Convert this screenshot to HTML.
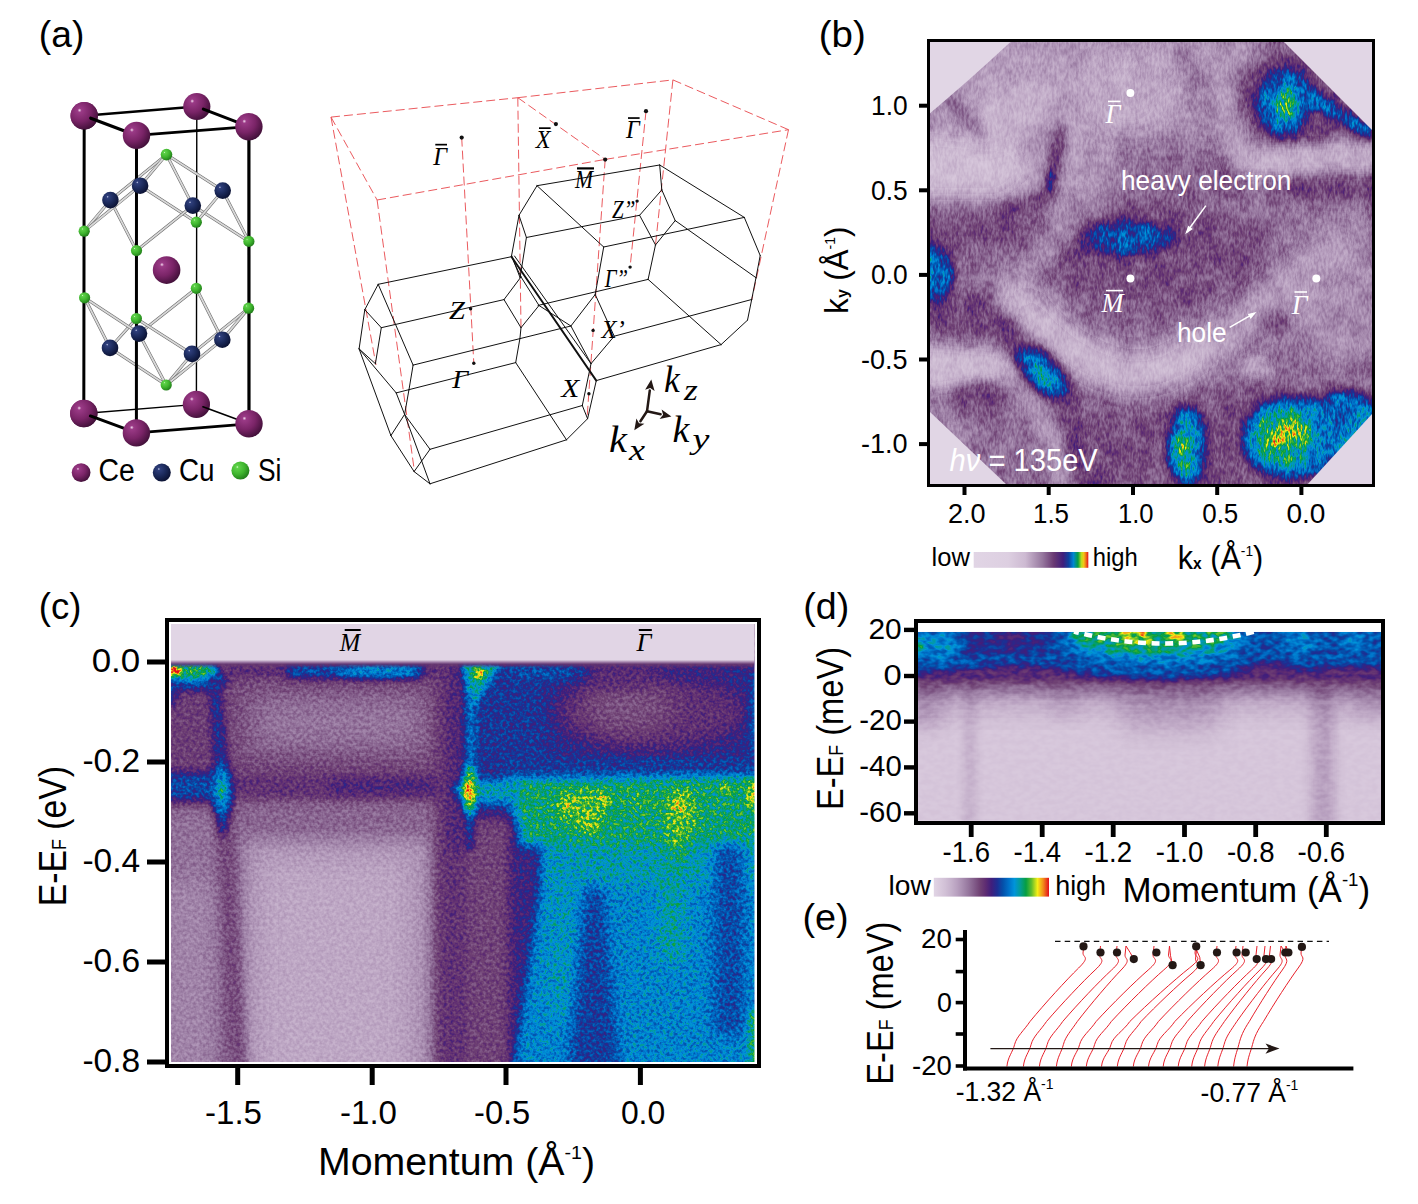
<!DOCTYPE html>
<html><head><meta charset="utf-8"><title>figure</title>
<style>
html,body{margin:0;padding:0;background:#fff;}
body{width:1418px;height:1204px;overflow:hidden;font-family:"Liberation Sans",sans-serif;}
svg{display:block;position:absolute;left:0;top:0;}
</style></head><body>
<svg width="1418" height="1204" viewBox="0 0 1418 1204">
<defs>
<linearGradient id="cbarD" x1="0" x2="1" y1="0" y2="0"><stop offset="0.000" stop-color="rgb(225,213,229)"/><stop offset="0.050" stop-color="rgb(218,203,222)"/><stop offset="0.100" stop-color="rgb(209,192,214)"/><stop offset="0.150" stop-color="rgb(198,178,204)"/><stop offset="0.200" stop-color="rgb(185,161,192)"/><stop offset="0.250" stop-color="rgb(168,141,176)"/><stop offset="0.300" stop-color="rgb(150,119,158)"/><stop offset="0.350" stop-color="rgb(131,93,138)"/><stop offset="0.400" stop-color="rgb(112,66,116)"/><stop offset="0.450" stop-color="rgb(94,44,114)"/><stop offset="0.500" stop-color="rgb(64,30,124)"/><stop offset="0.550" stop-color="rgb(30,46,146)"/><stop offset="0.600" stop-color="rgb(4,80,170)"/><stop offset="0.650" stop-color="rgb(0,112,200)"/><stop offset="0.700" stop-color="rgb(0,148,218)"/><stop offset="0.750" stop-color="rgb(4,156,150)"/><stop offset="0.800" stop-color="rgb(6,158,66)"/><stop offset="0.850" stop-color="rgb(100,190,44)"/><stop offset="0.900" stop-color="rgb(245,238,22)"/><stop offset="0.950" stop-color="rgb(242,138,26)"/><stop offset="1.000" stop-color="rgb(226,14,28)"/></linearGradient>
<linearGradient id="cbarB" x1="0" x2="1" y1="0" y2="0"><stop offset="0.000" stop-color="rgb(225,213,229)"/><stop offset="0.300" stop-color="rgb(221,207,225)"/><stop offset="0.450" stop-color="rgb(205,186,210)"/><stop offset="0.600" stop-color="rgb(150,119,158)"/><stop offset="0.700" stop-color="rgb(105,57,115)"/><stop offset="0.780" stop-color="rgb(64,30,124)"/><stop offset="0.830" stop-color="rgb(14,66,160)"/><stop offset="0.870" stop-color="rgb(0,134,211)"/><stop offset="0.910" stop-color="rgb(6,158,66)"/><stop offset="0.940" stop-color="rgb(187,219,31)"/><stop offset="0.960" stop-color="rgb(244,198,24)"/><stop offset="0.980" stop-color="rgb(239,113,26)"/><stop offset="1.000" stop-color="rgb(226,14,28)"/></linearGradient>
<filter id="blc1" filterUnits="userSpaceOnUse" x="120" y="573" width="686" height="540"><feGaussianBlur stdDeviation="1"/></filter>
<filter id="blc2" filterUnits="userSpaceOnUse" x="120" y="573" width="686" height="540"><feGaussianBlur stdDeviation="2"/></filter>
<filter id="blc3" filterUnits="userSpaceOnUse" x="120" y="573" width="686" height="540"><feGaussianBlur stdDeviation="3"/></filter>
<filter id="blc4" filterUnits="userSpaceOnUse" x="120" y="573" width="686" height="540"><feGaussianBlur stdDeviation="4"/></filter>
<filter id="blc5" filterUnits="userSpaceOnUse" x="120" y="573" width="686" height="540"><feGaussianBlur stdDeviation="5"/></filter>
<filter id="blc6" filterUnits="userSpaceOnUse" x="120" y="573" width="686" height="540"><feGaussianBlur stdDeviation="6"/></filter>
<filter id="blc7" filterUnits="userSpaceOnUse" x="120" y="573" width="686" height="540"><feGaussianBlur stdDeviation="7"/></filter>
<filter id="blc8" filterUnits="userSpaceOnUse" x="120" y="573" width="686" height="540"><feGaussianBlur stdDeviation="8"/></filter>
<filter id="blc9" filterUnits="userSpaceOnUse" x="120" y="573" width="686" height="540"><feGaussianBlur stdDeviation="9"/></filter>
<filter id="blc10" filterUnits="userSpaceOnUse" x="120" y="573" width="686" height="540"><feGaussianBlur stdDeviation="10"/></filter>
<filter id="blc12" filterUnits="userSpaceOnUse" x="120" y="573" width="686" height="540"><feGaussianBlur stdDeviation="12"/></filter>
<filter id="blc14" filterUnits="userSpaceOnUse" x="120" y="573" width="686" height="540"><feGaussianBlur stdDeviation="14"/></filter>
<filter id="blc15" filterUnits="userSpaceOnUse" x="120" y="573" width="686" height="540"><feGaussianBlur stdDeviation="15"/></filter>
<filter id="blc18" filterUnits="userSpaceOnUse" x="120" y="573" width="686" height="540"><feGaussianBlur stdDeviation="18"/></filter>
<filter id="blc22" filterUnits="userSpaceOnUse" x="120" y="573" width="686" height="540"><feGaussianBlur stdDeviation="22"/></filter>
<filter id="blc25" filterUnits="userSpaceOnUse" x="120" y="573" width="686" height="540"><feGaussianBlur stdDeviation="25"/></filter>
<filter id="blb1" filterUnits="userSpaceOnUse" x="880" y="-8" width="542" height="542"><feGaussianBlur stdDeviation="1"/></filter>
<filter id="blb2" filterUnits="userSpaceOnUse" x="880" y="-8" width="542" height="542"><feGaussianBlur stdDeviation="2"/></filter>
<filter id="blb3" filterUnits="userSpaceOnUse" x="880" y="-8" width="542" height="542"><feGaussianBlur stdDeviation="3"/></filter>
<filter id="blb4" filterUnits="userSpaceOnUse" x="880" y="-8" width="542" height="542"><feGaussianBlur stdDeviation="4"/></filter>
<filter id="blb5" filterUnits="userSpaceOnUse" x="880" y="-8" width="542" height="542"><feGaussianBlur stdDeviation="5"/></filter>
<filter id="blb6" filterUnits="userSpaceOnUse" x="880" y="-8" width="542" height="542"><feGaussianBlur stdDeviation="6"/></filter>
<filter id="blb7" filterUnits="userSpaceOnUse" x="880" y="-8" width="542" height="542"><feGaussianBlur stdDeviation="7"/></filter>
<filter id="blb8" filterUnits="userSpaceOnUse" x="880" y="-8" width="542" height="542"><feGaussianBlur stdDeviation="8"/></filter>
<filter id="blb9" filterUnits="userSpaceOnUse" x="880" y="-8" width="542" height="542"><feGaussianBlur stdDeviation="9"/></filter>
<filter id="blb10" filterUnits="userSpaceOnUse" x="880" y="-8" width="542" height="542"><feGaussianBlur stdDeviation="10"/></filter>
<filter id="blb12" filterUnits="userSpaceOnUse" x="880" y="-8" width="542" height="542"><feGaussianBlur stdDeviation="12"/></filter>
<filter id="blb14" filterUnits="userSpaceOnUse" x="880" y="-8" width="542" height="542"><feGaussianBlur stdDeviation="14"/></filter>
<filter id="blb15" filterUnits="userSpaceOnUse" x="880" y="-8" width="542" height="542"><feGaussianBlur stdDeviation="15"/></filter>
<filter id="blb18" filterUnits="userSpaceOnUse" x="880" y="-8" width="542" height="542"><feGaussianBlur stdDeviation="18"/></filter>
<filter id="blb22" filterUnits="userSpaceOnUse" x="880" y="-8" width="542" height="542"><feGaussianBlur stdDeviation="22"/></filter>
<filter id="blb25" filterUnits="userSpaceOnUse" x="880" y="-8" width="542" height="542"><feGaussianBlur stdDeviation="25"/></filter>
<filter id="bld1" filterUnits="userSpaceOnUse" x="868" y="582" width="563" height="289"><feGaussianBlur stdDeviation="1"/></filter>
<filter id="bld2" filterUnits="userSpaceOnUse" x="868" y="582" width="563" height="289"><feGaussianBlur stdDeviation="2"/></filter>
<filter id="bld3" filterUnits="userSpaceOnUse" x="868" y="582" width="563" height="289"><feGaussianBlur stdDeviation="3"/></filter>
<filter id="bld4" filterUnits="userSpaceOnUse" x="868" y="582" width="563" height="289"><feGaussianBlur stdDeviation="4"/></filter>
<filter id="bld5" filterUnits="userSpaceOnUse" x="868" y="582" width="563" height="289"><feGaussianBlur stdDeviation="5"/></filter>
<filter id="bld6" filterUnits="userSpaceOnUse" x="868" y="582" width="563" height="289"><feGaussianBlur stdDeviation="6"/></filter>
<filter id="bld7" filterUnits="userSpaceOnUse" x="868" y="582" width="563" height="289"><feGaussianBlur stdDeviation="7"/></filter>
<filter id="bld8" filterUnits="userSpaceOnUse" x="868" y="582" width="563" height="289"><feGaussianBlur stdDeviation="8"/></filter>
<filter id="bld9" filterUnits="userSpaceOnUse" x="868" y="582" width="563" height="289"><feGaussianBlur stdDeviation="9"/></filter>
<filter id="bld10" filterUnits="userSpaceOnUse" x="868" y="582" width="563" height="289"><feGaussianBlur stdDeviation="10"/></filter>
<filter id="bld12" filterUnits="userSpaceOnUse" x="868" y="582" width="563" height="289"><feGaussianBlur stdDeviation="12"/></filter>
<filter id="bld14" filterUnits="userSpaceOnUse" x="868" y="582" width="563" height="289"><feGaussianBlur stdDeviation="14"/></filter>
<filter id="bld15" filterUnits="userSpaceOnUse" x="868" y="582" width="563" height="289"><feGaussianBlur stdDeviation="15"/></filter>
<filter id="bld18" filterUnits="userSpaceOnUse" x="868" y="582" width="563" height="289"><feGaussianBlur stdDeviation="18"/></filter>
<filter id="bld22" filterUnits="userSpaceOnUse" x="868" y="582" width="563" height="289"><feGaussianBlur stdDeviation="22"/></filter>
<filter id="bld25" filterUnits="userSpaceOnUse" x="868" y="582" width="563" height="289"><feGaussianBlur stdDeviation="25"/></filter>
</defs>
<defs>
<radialGradient id="gCe" cx="0.36" cy="0.33" r="0.72" fx="0.33" fy="0.30"><stop offset="0" stop-color="#f3d9ee"/><stop offset="0.10" stop-color="#9a3a86"/><stop offset="0.55" stop-color="#7a2467"/><stop offset="1" stop-color="#3f0f37"/></radialGradient>
<radialGradient id="gCu" cx="0.36" cy="0.33" r="0.72" fx="0.33" fy="0.30"><stop offset="0" stop-color="#c5cde8"/><stop offset="0.10" stop-color="#2f3f7c"/><stop offset="0.55" stop-color="#1a2858"/><stop offset="1" stop-color="#0a1030"/></radialGradient>
<radialGradient id="gSi" cx="0.36" cy="0.33" r="0.72" fx="0.33" fy="0.30"><stop offset="0" stop-color="#e4ffd8"/><stop offset="0.10" stop-color="#5fd24a"/><stop offset="0.55" stop-color="#3fb52e"/><stop offset="1" stop-color="#1f7a18"/></radialGradient>
</defs>
<line x1="196.8" y1="106.5" x2="196.4" y2="404.4" stroke="#000" stroke-width="1.4" stroke-linecap="round"/>
<line x1="83.8" y1="413.5" x2="196.4" y2="404.4" stroke="#000" stroke-width="1.3" stroke-linecap="round"/>
<line x1="84.2" y1="115.7" x2="196.8" y2="106.5" stroke="#000" stroke-width="2.4" stroke-linecap="round"/>
<circle cx="196.8" cy="106.5" r="13.6" fill="url(#gCe)"/>
<circle cx="196.4" cy="404.4" r="13.6" fill="url(#gCe)"/>
<line x1="203.32661533365453" y1="109.03047273972786" x2="248.9" y2="126.7" stroke="#000" stroke-width="3" stroke-linecap="round"/>
<line x1="202.96754871885256" y1="406.82225180885433" x2="249" y2="423.8" stroke="#000" stroke-width="1.7" stroke-linecap="round"/>
<circle cx="84.2" cy="115.7" r="13.7" fill="url(#gCe)"/>
<circle cx="83.8" cy="413.5" r="13.7" fill="url(#gCe)"/>
<line x1="136.5" y1="135.4" x2="248.9" y2="126.7" stroke="#000" stroke-width="2.8" stroke-linecap="round"/>
<line x1="136.4" y1="432.9" x2="249" y2="423.8" stroke="#000" stroke-width="2.8" stroke-linecap="round"/>
<line x1="110.4" y1="200.1" x2="84.2" y2="231.2" stroke="#6e6e6e" stroke-width="3.0" stroke-linecap="round"/>
<line x1="110.4" y1="200.1" x2="84.2" y2="231.2" stroke="#d9d9d9" stroke-width="1.8" stroke-linecap="round"/>
<line x1="110" y1="347.9" x2="84.6" y2="297.8" stroke="#6e6e6e" stroke-width="3.0" stroke-linecap="round"/>
<line x1="110" y1="347.9" x2="84.6" y2="297.8" stroke="#d9d9d9" stroke-width="1.8" stroke-linecap="round"/>
<line x1="110.4" y1="200.1" x2="136.5" y2="250.6" stroke="#6e6e6e" stroke-width="3.0" stroke-linecap="round"/>
<line x1="110.4" y1="200.1" x2="136.5" y2="250.6" stroke="#d9d9d9" stroke-width="1.8" stroke-linecap="round"/>
<line x1="110" y1="347.9" x2="136.4" y2="318.5" stroke="#6e6e6e" stroke-width="3.0" stroke-linecap="round"/>
<line x1="110" y1="347.9" x2="136.4" y2="318.5" stroke="#d9d9d9" stroke-width="1.8" stroke-linecap="round"/>
<line x1="140.1" y1="185.7" x2="84.2" y2="231.2" stroke="#6e6e6e" stroke-width="3.0" stroke-linecap="round"/>
<line x1="140.1" y1="185.7" x2="84.2" y2="231.2" stroke="#d9d9d9" stroke-width="1.8" stroke-linecap="round"/>
<line x1="139" y1="333.6" x2="84.6" y2="297.8" stroke="#6e6e6e" stroke-width="3.0" stroke-linecap="round"/>
<line x1="139" y1="333.6" x2="84.6" y2="297.8" stroke="#d9d9d9" stroke-width="1.8" stroke-linecap="round"/>
<line x1="140.1" y1="185.7" x2="196.3" y2="222.2" stroke="#6e6e6e" stroke-width="3.0" stroke-linecap="round"/>
<line x1="140.1" y1="185.7" x2="196.3" y2="222.2" stroke="#d9d9d9" stroke-width="1.8" stroke-linecap="round"/>
<line x1="139" y1="333.6" x2="196.4" y2="288.3" stroke="#6e6e6e" stroke-width="3.0" stroke-linecap="round"/>
<line x1="139" y1="333.6" x2="196.4" y2="288.3" stroke="#d9d9d9" stroke-width="1.8" stroke-linecap="round"/>
<line x1="192.8" y1="205.6" x2="136.5" y2="250.6" stroke="#6e6e6e" stroke-width="3.0" stroke-linecap="round"/>
<line x1="192.8" y1="205.6" x2="136.5" y2="250.6" stroke="#d9d9d9" stroke-width="1.8" stroke-linecap="round"/>
<line x1="192" y1="353.9" x2="136.4" y2="318.5" stroke="#6e6e6e" stroke-width="3.0" stroke-linecap="round"/>
<line x1="192" y1="353.9" x2="136.4" y2="318.5" stroke="#d9d9d9" stroke-width="1.8" stroke-linecap="round"/>
<line x1="192.8" y1="205.6" x2="248.9" y2="241.4" stroke="#6e6e6e" stroke-width="3.0" stroke-linecap="round"/>
<line x1="192.8" y1="205.6" x2="248.9" y2="241.4" stroke="#d9d9d9" stroke-width="1.8" stroke-linecap="round"/>
<line x1="192" y1="353.9" x2="248.6" y2="308.2" stroke="#6e6e6e" stroke-width="3.0" stroke-linecap="round"/>
<line x1="192" y1="353.9" x2="248.6" y2="308.2" stroke="#d9d9d9" stroke-width="1.8" stroke-linecap="round"/>
<line x1="222.7" y1="190.6" x2="196.3" y2="222.2" stroke="#6e6e6e" stroke-width="3.0" stroke-linecap="round"/>
<line x1="222.7" y1="190.6" x2="196.3" y2="222.2" stroke="#d9d9d9" stroke-width="1.8" stroke-linecap="round"/>
<line x1="222.3" y1="339.7" x2="196.4" y2="288.3" stroke="#6e6e6e" stroke-width="3.0" stroke-linecap="round"/>
<line x1="222.3" y1="339.7" x2="196.4" y2="288.3" stroke="#d9d9d9" stroke-width="1.8" stroke-linecap="round"/>
<line x1="222.7" y1="190.6" x2="248.9" y2="241.4" stroke="#6e6e6e" stroke-width="3.0" stroke-linecap="round"/>
<line x1="222.7" y1="190.6" x2="248.9" y2="241.4" stroke="#d9d9d9" stroke-width="1.8" stroke-linecap="round"/>
<line x1="222.3" y1="339.7" x2="248.6" y2="308.2" stroke="#6e6e6e" stroke-width="3.0" stroke-linecap="round"/>
<line x1="222.3" y1="339.7" x2="248.6" y2="308.2" stroke="#d9d9d9" stroke-width="1.8" stroke-linecap="round"/>
<line x1="166.5" y1="154.6" x2="110.4" y2="200.1" stroke="#6e6e6e" stroke-width="3.0" stroke-linecap="round"/>
<line x1="166.5" y1="154.6" x2="110.4" y2="200.1" stroke="#d9d9d9" stroke-width="1.8" stroke-linecap="round"/>
<line x1="166.5" y1="154.6" x2="140.1" y2="185.7" stroke="#6e6e6e" stroke-width="3.0" stroke-linecap="round"/>
<line x1="166.5" y1="154.6" x2="140.1" y2="185.7" stroke="#d9d9d9" stroke-width="1.8" stroke-linecap="round"/>
<line x1="166.5" y1="154.6" x2="192.8" y2="205.6" stroke="#6e6e6e" stroke-width="3.0" stroke-linecap="round"/>
<line x1="166.5" y1="154.6" x2="192.8" y2="205.6" stroke="#d9d9d9" stroke-width="1.8" stroke-linecap="round"/>
<line x1="166.5" y1="154.6" x2="222.7" y2="190.6" stroke="#6e6e6e" stroke-width="3.0" stroke-linecap="round"/>
<line x1="166.5" y1="154.6" x2="222.7" y2="190.6" stroke="#d9d9d9" stroke-width="1.8" stroke-linecap="round"/>
<line x1="166.2" y1="385" x2="110" y2="347.9" stroke="#6e6e6e" stroke-width="3.0" stroke-linecap="round"/>
<line x1="166.2" y1="385" x2="110" y2="347.9" stroke="#d9d9d9" stroke-width="1.8" stroke-linecap="round"/>
<line x1="166.2" y1="385" x2="139" y2="333.6" stroke="#6e6e6e" stroke-width="3.0" stroke-linecap="round"/>
<line x1="166.2" y1="385" x2="139" y2="333.6" stroke="#d9d9d9" stroke-width="1.8" stroke-linecap="round"/>
<line x1="166.2" y1="385" x2="192" y2="353.9" stroke="#6e6e6e" stroke-width="3.0" stroke-linecap="round"/>
<line x1="166.2" y1="385" x2="192" y2="353.9" stroke="#d9d9d9" stroke-width="1.8" stroke-linecap="round"/>
<line x1="166.2" y1="385" x2="222.3" y2="339.7" stroke="#6e6e6e" stroke-width="3.0" stroke-linecap="round"/>
<line x1="166.2" y1="385" x2="222.3" y2="339.7" stroke="#d9d9d9" stroke-width="1.8" stroke-linecap="round"/>
<line x1="84.2" y1="115.7" x2="83.8" y2="413.5" stroke="#000" stroke-width="3" stroke-linecap="round"/>
<line x1="136.5" y1="135.4" x2="136.4" y2="432.9" stroke="#000" stroke-width="3" stroke-linecap="round"/>
<line x1="248.9" y1="126.7" x2="249" y2="423.8" stroke="#000" stroke-width="3.2" stroke-linecap="round"/>
<circle cx="84.2" cy="115.7" r="13.7" fill="url(#gCe)"/>
<circle cx="83.8" cy="413.5" r="13.7" fill="url(#gCe)"/>
<line x1="90.75069405250986" y1="118.16746984387083" x2="136.5" y2="135.4" stroke="#000" stroke-width="3.2" stroke-linecap="round"/>
<line x1="90.36754871885255" y1="415.92225180885436" x2="136.4" y2="432.9" stroke="#000" stroke-width="3" stroke-linecap="round"/>
<circle cx="84.2" cy="231.2" r="5.6" fill="url(#gSi)"/>
<circle cx="136.5" cy="250.6" r="5.6" fill="url(#gSi)"/>
<circle cx="196.3" cy="222.2" r="5.6" fill="url(#gSi)"/>
<circle cx="248.9" cy="241.4" r="5.6" fill="url(#gSi)"/>
<circle cx="84.6" cy="297.8" r="5.6" fill="url(#gSi)"/>
<circle cx="136.4" cy="318.5" r="5.6" fill="url(#gSi)"/>
<circle cx="196.4" cy="288.3" r="5.6" fill="url(#gSi)"/>
<circle cx="248.6" cy="308.2" r="5.6" fill="url(#gSi)"/>
<circle cx="166.5" cy="154.6" r="5.8" fill="url(#gSi)"/>
<circle cx="166.2" cy="385" r="5.6" fill="url(#gSi)"/>
<circle cx="110.4" cy="200.1" r="8.3" fill="url(#gCu)"/>
<circle cx="140.1" cy="185.7" r="8.3" fill="url(#gCu)"/>
<circle cx="192.8" cy="205.6" r="8.3" fill="url(#gCu)"/>
<circle cx="222.7" cy="190.6" r="8.3" fill="url(#gCu)"/>
<circle cx="110" cy="347.9" r="8.3" fill="url(#gCu)"/>
<circle cx="139" cy="333.6" r="8.3" fill="url(#gCu)"/>
<circle cx="192" cy="353.9" r="8.3" fill="url(#gCu)"/>
<circle cx="222.3" cy="339.7" r="8.3" fill="url(#gCu)"/>
<circle cx="166.6" cy="270.1" r="13.8" fill="url(#gCe)"/>
<circle cx="136.5" cy="135.4" r="13.7" fill="url(#gCe)"/>
<circle cx="248.9" cy="126.7" r="13.7" fill="url(#gCe)"/>
<circle cx="136.4" cy="432.9" r="13.7" fill="url(#gCe)"/>
<circle cx="249" cy="423.8" r="13.7" fill="url(#gCe)"/>
<circle cx="81.1" cy="472.6" r="9.4" fill="url(#gCe)"/>
<circle cx="161.8" cy="472.6" r="9" fill="url(#gCu)"/>
<circle cx="240.4" cy="470.6" r="9" fill="url(#gSi)"/>
<text x="98.4" y="481.4" font-family="Liberation Sans, sans-serif" font-size="31" fill="#000" textLength="36.3" lengthAdjust="spacingAndGlyphs">Ce</text>
<text x="179" y="481.4" font-family="Liberation Sans, sans-serif" font-size="31" fill="#000" textLength="35.5" lengthAdjust="spacingAndGlyphs">Cu</text>
<text x="258" y="481.4" font-family="Liberation Sans, sans-serif" font-size="31" fill="#000" textLength="23.4" lengthAdjust="spacingAndGlyphs">Si</text>
<line x1="331" y1="117.1" x2="517.8" y2="97.7" stroke="#e8474c" stroke-width="0.9" stroke-dasharray="9 4"/>
<line x1="517.8" y1="97.7" x2="672.9" y2="79.9" stroke="#e8474c" stroke-width="0.9" stroke-dasharray="9 4"/>
<line x1="377.1" y1="200" x2="605.2" y2="159.4" stroke="#e8474c" stroke-width="0.9" stroke-dasharray="9 4"/>
<line x1="605.2" y1="159.4" x2="788.5" y2="129.7" stroke="#e8474c" stroke-width="0.9" stroke-dasharray="9 4"/>
<line x1="331" y1="117.1" x2="377.1" y2="200" stroke="#e8474c" stroke-width="0.9" stroke-dasharray="9 4"/>
<line x1="517.8" y1="97.7" x2="605.2" y2="159.4" stroke="#e8474c" stroke-width="0.9" stroke-dasharray="9 4"/>
<line x1="672.9" y1="79.9" x2="788.5" y2="129.7" stroke="#e8474c" stroke-width="0.9" stroke-dasharray="9 4"/>
<line x1="331" y1="117.1" x2="376" y2="365" stroke="#e8474c" stroke-width="0.9" stroke-dasharray="9 4"/>
<line x1="377.1" y1="200" x2="414.5" y2="472" stroke="#e8474c" stroke-width="0.9" stroke-dasharray="9 4"/>
<line x1="517.8" y1="97.7" x2="521" y2="328" stroke="#e8474c" stroke-width="0.9" stroke-dasharray="9 4"/>
<line x1="605.2" y1="159.4" x2="587" y2="419" stroke="#e8474c" stroke-width="0.9" stroke-dasharray="9 4"/>
<line x1="672.9" y1="79.9" x2="655.5" y2="245" stroke="#e8474c" stroke-width="0.9" stroke-dasharray="9 4"/>
<line x1="788.5" y1="129.7" x2="751.7" y2="300" stroke="#e8474c" stroke-width="0.9" stroke-dasharray="9 4"/>
<line x1="461.7" y1="137.6" x2="473.8" y2="363.2" stroke="#e8474c" stroke-width="0.9" stroke-dasharray="9 4"/>
<line x1="646" y1="111.2" x2="630.1" y2="267.1" stroke="#e8474c" stroke-width="0.9" stroke-dasharray="9 4"/>
<line x1="378.2" y1="284.3" x2="511.5" y2="256.7" stroke="#111" stroke-width="1.0" stroke-linecap="round"/>
<line x1="378.2" y1="284.3" x2="364.8" y2="309.7" stroke="#111" stroke-width="1.0" stroke-linecap="round"/>
<line x1="364.8" y1="309.7" x2="381.3" y2="327.7" stroke="#111" stroke-width="1.0" stroke-linecap="round"/>
<line x1="381.3" y1="327.7" x2="504" y2="299.6" stroke="#111" stroke-width="1.0" stroke-linecap="round"/>
<line x1="378.2" y1="284.3" x2="413.1" y2="365.1" stroke="#111" stroke-width="1.0" stroke-linecap="round"/>
<line x1="364.8" y1="309.7" x2="359.1" y2="348.9" stroke="#111" stroke-width="1.0" stroke-linecap="round"/>
<line x1="381.3" y1="327.7" x2="375.4" y2="363.7" stroke="#111" stroke-width="1.0" stroke-linecap="round"/>
<line x1="359.1" y1="348.9" x2="375.4" y2="363.7" stroke="#111" stroke-width="1.0" stroke-linecap="round"/>
<line x1="413.1" y1="365.1" x2="570.9" y2="326" stroke="#111" stroke-width="1.0" stroke-linecap="round"/>
<line x1="413.1" y1="365.1" x2="408.9" y2="390.1" stroke="#111" stroke-width="1.0" stroke-linecap="round"/>
<line x1="396.2" y1="392.9" x2="515.7" y2="362.6" stroke="#111" stroke-width="1.0" stroke-linecap="round"/>
<line x1="515.7" y1="362.6" x2="519.9" y2="338.7" stroke="#111" stroke-width="1.0" stroke-linecap="round"/>
<line x1="519.9" y1="338.7" x2="521" y2="327.7" stroke="#111" stroke-width="1.0" stroke-linecap="round"/>
<line x1="504" y1="299.6" x2="521" y2="327.7" stroke="#111" stroke-width="1.0" stroke-linecap="round"/>
<line x1="504" y1="299.6" x2="521" y2="276.9" stroke="#111" stroke-width="1.0" stroke-linecap="round"/>
<line x1="521" y1="276.9" x2="511.5" y2="256.7" stroke="#111" stroke-width="1.0" stroke-linecap="round"/>
<line x1="515.7" y1="362.6" x2="566.5" y2="439.8" stroke="#111" stroke-width="1.0" stroke-linecap="round"/>
<line x1="566.5" y1="439.8" x2="430" y2="483.8" stroke="#111" stroke-width="1.0" stroke-linecap="round"/>
<line x1="430" y1="449.3" x2="582.3" y2="405.5" stroke="#111" stroke-width="1.0" stroke-linecap="round"/>
<line x1="430" y1="449.3" x2="404.6" y2="414.4" stroke="#111" stroke-width="1.0" stroke-linecap="round"/>
<line x1="430" y1="449.3" x2="414.1" y2="471.6" stroke="#111" stroke-width="1.0" stroke-linecap="round"/>
<line x1="414.1" y1="471.6" x2="430" y2="483.8" stroke="#111" stroke-width="1.0" stroke-linecap="round"/>
<line x1="404.6" y1="414.4" x2="430" y2="483.8" stroke="#111" stroke-width="1.0" stroke-linecap="round"/>
<line x1="359.1" y1="348.9" x2="390.9" y2="435.6" stroke="#111" stroke-width="1.0" stroke-linecap="round"/>
<line x1="390.9" y1="435.6" x2="414.1" y2="471.6" stroke="#111" stroke-width="1.0" stroke-linecap="round"/>
<line x1="390.9" y1="435.6" x2="404.6" y2="414.4" stroke="#111" stroke-width="1.0" stroke-linecap="round"/>
<line x1="359.1" y1="348.9" x2="396.2" y2="392.9" stroke="#111" stroke-width="1.0" stroke-linecap="round"/>
<line x1="396.2" y1="392.9" x2="404.6" y2="414.4" stroke="#111" stroke-width="1.0" stroke-linecap="round"/>
<line x1="408.9" y1="390.1" x2="404.6" y2="414.4" stroke="#111" stroke-width="1.0" stroke-linecap="round"/>
<line x1="566.5" y1="439.8" x2="587.6" y2="418.7" stroke="#111" stroke-width="1.0" stroke-linecap="round"/>
<line x1="582.3" y1="405.5" x2="587.6" y2="418.7" stroke="#111" stroke-width="1.0" stroke-linecap="round"/>
<line x1="521" y1="276.9" x2="539" y2="305.5" stroke="#111" stroke-width="1.0" stroke-linecap="round"/>
<line x1="521" y1="327.7" x2="539" y2="305.5" stroke="#111" stroke-width="1.0" stroke-linecap="round"/>
<line x1="539" y1="305.5" x2="570.9" y2="326" stroke="#111" stroke-width="1.0" stroke-linecap="round"/>
<line x1="582.3" y1="405.5" x2="591" y2="363.7" stroke="#111" stroke-width="1.0" stroke-linecap="round"/>
<line x1="587.6" y1="418.7" x2="596.3" y2="380.6" stroke="#111" stroke-width="1.0" stroke-linecap="round"/>
<line x1="511.5" y1="256.7" x2="596.3" y2="380.6" stroke="#111" stroke-width="1.9" stroke-linecap="round"/>
<line x1="514.5" y1="256" x2="591" y2="363.7" stroke="#111" stroke-width="1.0" stroke-linecap="round"/>
<line x1="537" y1="185.7" x2="659.7" y2="165" stroke="#111" stroke-width="1.0" stroke-linecap="round"/>
<line x1="537" y1="185.7" x2="519" y2="215.3" stroke="#111" stroke-width="1.0" stroke-linecap="round"/>
<line x1="519" y1="215.3" x2="526.4" y2="237.5" stroke="#111" stroke-width="1.0" stroke-linecap="round"/>
<line x1="526.4" y1="237.5" x2="639.6" y2="215.3" stroke="#111" stroke-width="1.0" stroke-linecap="round"/>
<line x1="537" y1="185.7" x2="603.7" y2="247" stroke="#111" stroke-width="1.0" stroke-linecap="round"/>
<line x1="603.7" y1="247" x2="744.3" y2="217.4" stroke="#111" stroke-width="1.0" stroke-linecap="round"/>
<line x1="659.7" y1="165" x2="744.3" y2="217.4" stroke="#111" stroke-width="1.0" stroke-linecap="round"/>
<line x1="659.7" y1="165" x2="661.8" y2="189.9" stroke="#111" stroke-width="1.0" stroke-linecap="round"/>
<line x1="661.8" y1="189.9" x2="639.6" y2="215.3" stroke="#111" stroke-width="1.0" stroke-linecap="round"/>
<line x1="661.8" y1="189.9" x2="675.2" y2="220.6" stroke="#111" stroke-width="1.0" stroke-linecap="round"/>
<line x1="639.6" y1="215.3" x2="655.5" y2="244.9" stroke="#111" stroke-width="1.0" stroke-linecap="round"/>
<line x1="675.2" y1="220.6" x2="655.5" y2="244.9" stroke="#111" stroke-width="1.0" stroke-linecap="round"/>
<line x1="675.2" y1="220.6" x2="756" y2="277.7" stroke="#111" stroke-width="1.0" stroke-linecap="round"/>
<line x1="655.5" y1="244.9" x2="648.1" y2="279.4" stroke="#111" stroke-width="1.0" stroke-linecap="round"/>
<line x1="603.7" y1="247" x2="595.2" y2="294.5" stroke="#111" stroke-width="1.0" stroke-linecap="round"/>
<line x1="538.1" y1="305.4" x2="648.1" y2="279.4" stroke="#111" stroke-width="1.0" stroke-linecap="round"/>
<line x1="744.3" y1="217.4" x2="760.2" y2="255.5" stroke="#111" stroke-width="1.0" stroke-linecap="round"/>
<line x1="760.2" y1="255.5" x2="756" y2="277.7" stroke="#111" stroke-width="1.0" stroke-linecap="round"/>
<line x1="756" y1="277.7" x2="751.7" y2="299.5" stroke="#111" stroke-width="1.0" stroke-linecap="round"/>
<line x1="751.7" y1="299.5" x2="747.5" y2="320.2" stroke="#111" stroke-width="1.0" stroke-linecap="round"/>
<line x1="519" y1="215.3" x2="511.6" y2="255.5" stroke="#111" stroke-width="1.0" stroke-linecap="round"/>
<line x1="526.4" y1="237.5" x2="520.1" y2="277.7" stroke="#111" stroke-width="1.0" stroke-linecap="round"/>
<line x1="511.6" y1="255.5" x2="520.1" y2="277.7" stroke="#111" stroke-width="1.0" stroke-linecap="round"/>
<line x1="648.1" y1="279.4" x2="721.1" y2="344.6" stroke="#111" stroke-width="1.0" stroke-linecap="round"/>
<line x1="747.5" y1="320.2" x2="721.1" y2="344.6" stroke="#111" stroke-width="1.0" stroke-linecap="round"/>
<line x1="721.1" y1="344.6" x2="596.3" y2="380.6" stroke="#111" stroke-width="1.0" stroke-linecap="round"/>
<line x1="751.7" y1="299.5" x2="614.2" y2="336.2" stroke="#111" stroke-width="1.0" stroke-linecap="round"/>
<line x1="595.2" y1="294.5" x2="614.2" y2="336.2" stroke="#111" stroke-width="1.0" stroke-linecap="round"/>
<line x1="595.2" y1="294.5" x2="570.9" y2="326" stroke="#111" stroke-width="1.0" stroke-linecap="round"/>
<line x1="614.2" y1="336.2" x2="591" y2="363.7" stroke="#111" stroke-width="1.0" stroke-linecap="round"/>
<line x1="570.9" y1="326" x2="591" y2="363.7" stroke="#111" stroke-width="1.0" stroke-linecap="round"/>
<circle cx="461.7" cy="137.6" r="2.1" fill="#111"/>
<circle cx="646" cy="111.2" r="2.1" fill="#111"/>
<circle cx="555.9" cy="124.1" r="2.1" fill="#111"/>
<circle cx="605.2" cy="159.6" r="2.1" fill="#111"/>
<circle cx="470.6" cy="308.7" r="1.7" fill="#111"/>
<circle cx="473.8" cy="363.2" r="1.7" fill="#111"/>
<circle cx="588.9" cy="393.7" r="1.7" fill="#111"/>
<circle cx="593.1" cy="330.4" r="1.7" fill="#111"/>
<circle cx="630.1" cy="267.1" r="1.7" fill="#111"/>
<circle cx="637.1" cy="201.1" r="1.7" fill="#111"/>
<text x="433.2" y="164.7" font-family="Liberation Serif, sans-serif" font-size="24.5" fill="#000" textLength="13.8" lengthAdjust="spacingAndGlyphs" font-style="italic">Γ</text>
<rect x="435.3" y="143.8" width="11.699999999999989" height="1.7" fill="#000"/>
<text x="535.8" y="147.8" font-family="Liberation Serif, sans-serif" font-size="24.5" fill="#000" textLength="14.8" lengthAdjust="spacingAndGlyphs" font-style="italic">X</text>
<rect x="539" y="127.3" width="11.600000000000023" height="1.7" fill="#000"/>
<text x="574.9" y="188" font-family="Liberation Serif, sans-serif" font-size="24.5" fill="#000" textLength="18" lengthAdjust="spacingAndGlyphs" font-style="italic">M</text>
<rect x="577" y="167.3" width="17" height="2.2" fill="#000"/>
<text x="625.9" y="137.7" font-family="Liberation Serif, sans-serif" font-size="24.5" fill="#000" textLength="13.7" lengthAdjust="spacingAndGlyphs" font-style="italic">Γ</text>
<rect x="628" y="117.2" width="11.600000000000023" height="1.7" fill="#000"/>
<text x="612.1" y="217.8" font-family="Liberation Serif, sans-serif" font-size="24.5" fill="#000" textLength="23.3" lengthAdjust="spacingAndGlyphs" font-style="italic">Z”</text>
<text x="604.7" y="286.6" font-family="Liberation Serif, sans-serif" font-size="24.5" fill="#000" textLength="23.3" lengthAdjust="spacingAndGlyphs" font-style="italic">Γ”</text>
<text x="601.5" y="338.3" font-family="Liberation Serif, sans-serif" font-size="24.5" fill="#000" textLength="23.3" lengthAdjust="spacingAndGlyphs" font-style="italic">X’</text>
<text x="561.3" y="396.5" font-family="Liberation Serif, sans-serif" font-size="24.5" fill="#000" textLength="18" lengthAdjust="spacingAndGlyphs" font-style="italic">X</text>
<text x="449" y="319.2" font-family="Liberation Serif, sans-serif" font-size="24.5" fill="#000" textLength="15.9" lengthAdjust="spacingAndGlyphs" font-style="italic">Z</text>
<text x="452.2" y="388" font-family="Liberation Serif, sans-serif" font-size="24.5" fill="#000" textLength="15.9" lengthAdjust="spacingAndGlyphs" font-style="italic">Γ</text>
<text x="664" y="392.2" font-family="Liberation Serif, sans-serif" font-size="37" fill="#000" textLength="15.8" lengthAdjust="spacingAndGlyphs" font-style="italic">k</text>
<text x="684" y="399.6" font-family="Liberation Serif, sans-serif" font-size="29" fill="#000" textLength="13.8" lengthAdjust="spacingAndGlyphs" font-style="italic">z</text>
<text x="672.4" y="442" font-family="Liberation Serif, sans-serif" font-size="37" fill="#000" textLength="16.9" lengthAdjust="spacingAndGlyphs" font-style="italic">k</text>
<text x="692.5" y="449" font-family="Liberation Serif, sans-serif" font-size="29" fill="#000" textLength="16.9" lengthAdjust="spacingAndGlyphs" font-style="italic">y</text>
<text x="609" y="451.5" font-family="Liberation Serif, sans-serif" font-size="37" fill="#000" textLength="18" lengthAdjust="spacingAndGlyphs" font-style="italic">k</text>
<text x="629" y="460" font-family="Liberation Serif, sans-serif" font-size="29" fill="#000" textLength="16" lengthAdjust="spacingAndGlyphs" font-style="italic">x</text>
<line x1="647" y1="411.3" x2="649.8" y2="390.4" stroke="#231815" stroke-width="2.5" stroke-linecap="round"/>
<path d="M651.3 379.5 L654.6 391.0 L650.2 387.9 L645.1 389.8 Z" fill="#231815"/>
<line x1="647" y1="411.3" x2="660.6" y2="414.2" stroke="#231815" stroke-width="2.5" stroke-linecap="round"/>
<path d="M671.4 416.5 L659.6 418.9 L663.1 414.7 L661.6 409.5 Z" fill="#231815"/>
<line x1="647" y1="411.3" x2="640.4" y2="421.2" stroke="#231815" stroke-width="2.5" stroke-linecap="round"/>
<path d="M634.3 430.3 L636.4 418.5 L639.0 423.2 L644.4 423.8 Z" fill="#231815"/>
<filter id="fb" filterUnits="userSpaceOnUse" x="930" y="42" width="442" height="442" color-interpolation-filters="sRGB">
<feTurbulence type="fractalNoise" baseFrequency="0.06 0.045" numOctaves="2" seed="3" result="m0"/><feColorMatrix in="m0" type="matrix" values="2.4 0 0 0 -0.7  2.4 0 0 0 -0.7  2.4 0 0 0 -0.7  0 0 0 0 1" result="m"/><feComposite in="SourceGraphic" in2="m" operator="arithmetic" k1="0.1" k2="0.9500" k3="0.0350" k4="-0.0175" result="src2"/><feTurbulence type="fractalNoise" baseFrequency="0.42 0.16" numOctaves="2" seed="5" result="n0"/>
<feColorMatrix in="n0" type="matrix" values="2.2 0 0 0 -0.6  2.2 0 0 0 -0.6  2.2 0 0 0 -0.6  0 0 0 0 1" result="n"/>
<feComposite in="src2" in2="n" operator="arithmetic" k1="0.19" k2="0.9050" k3="0.04" k4="-0.0200" result="s"/>
<feComponentTransfer in="s"><feFuncR type="table" tableValues="0.882 0.855 0.820 0.776 0.725 0.659 0.588 0.514 0.439 0.369 0.251 0.118 0.016 0.000 0.000 0.016 0.024 0.392 0.961 0.949 0.886"/><feFuncG type="table" tableValues="0.835 0.796 0.753 0.698 0.631 0.553 0.467 0.365 0.259 0.173 0.118 0.180 0.314 0.439 0.580 0.612 0.620 0.745 0.933 0.541 0.055"/><feFuncB type="table" tableValues="0.898 0.871 0.839 0.800 0.753 0.690 0.620 0.541 0.455 0.447 0.486 0.573 0.667 0.784 0.855 0.588 0.259 0.173 0.086 0.102 0.110"/><feFuncA type="linear" slope="0" intercept="1"/></feComponentTransfer>
</filter>
<defs><clipPath id="clipB"><rect x="930" y="42" width="442" height="442"/></clipPath></defs>
<g clip-path="url(#clipB)"><g filter="url(#fb)">
<rect x="900" y="12" width="502" height="502" fill="rgb(83,83,83)"/>
<rect x="915" y="25" width="200" height="190" fill="rgb(57,57,57)" filter="url(#blb15)"/>
<rect x="1100" y="25" width="160" height="110" fill="rgb(62,62,62)" filter="url(#blb15)"/>
<ellipse cx="1150" cy="255" rx="112" ry="56" fill="rgb(98,98,98)" filter="url(#blb12)"/>
<rect x="1085" y="392" width="300" height="110" fill="rgb(96,96,96)" filter="url(#blb10)"/>
<rect x="915" y="205" width="135" height="46" fill="rgb(94,94,94)" filter="url(#blb8)"/>
<ellipse cx="1338" cy="305" rx="48" ry="62" fill="rgb(65,65,65)" filter="url(#blb12)"/>
<ellipse cx="1335" cy="232" rx="44" ry="28" fill="rgb(74,74,74)" filter="url(#blb10)"/>
<rect x="1290" y="175" width="90" height="24" fill="rgb(105,105,105)" filter="url(#blb6)"/>
<ellipse cx="1295" cy="100" rx="58" ry="52" fill="rgb(107,107,107)" filter="url(#blb8)"/>
<ellipse cx="1232" cy="168" rx="22" ry="14" fill="rgb(102,102,102)" filter="url(#blb6)"/>
<rect x="925" y="390" width="120" height="100" fill="rgb(79,79,79)" filter="url(#blb10)"/>
<path d="M915 138 L1012 146 L1028 172 L1000 194 L915 194 Z" fill="rgb(26,26,26)" filter="url(#blb7)"/>
<ellipse cx="1010" cy="112" rx="56" ry="24" fill="rgb(38,38,38)" filter="url(#blb9)" transform="rotate(-38 1010 112)"/>
<ellipse cx="1128" cy="92" rx="50" ry="42" fill="rgb(41,41,41)" filter="url(#blb12)"/>
<path d="M1172 48 L1128 95" fill="none" stroke="rgb(48,48,48)" stroke-width="28" stroke-linecap="round" stroke-linejoin="round" filter="url(#blb10)"/>
<path d="M1236 146 L1380 142 L1380 171 L1240 175 Z" fill="rgb(41,41,41)" filter="url(#blb6)"/>
<path d="M1240 158 L1196 60" fill="none" stroke="rgb(54,54,54)" stroke-width="26" stroke-linecap="round" stroke-linejoin="round" filter="url(#blb9)"/>
<path d="M1080 198 L1030 270" fill="none" stroke="rgb(64,64,64)" stroke-width="24" stroke-linecap="round" stroke-linejoin="round" filter="url(#blb9)"/>
<path d="M1012 290 C1040 325 1070 356 1112 370 S1200 352 1250 318 S1300 272 1340 252" fill="none" stroke="rgb(54,54,54)" stroke-width="40" stroke-linecap="round" stroke-linejoin="round" filter="url(#blb10)"/>
<path d="M1026 308 C1046 334 1074 360 1114 371 S1172 366 1200 350" fill="none" stroke="rgb(26,26,26)" stroke-width="26" stroke-linecap="round" stroke-linejoin="round" filter="url(#blb12)"/>
<ellipse cx="1257" cy="367" rx="17" ry="11" fill="rgb(51,51,51)" filter="url(#blb6)"/>
<path d="M915 344 L1003 350 L1018 378 L915 392 Z" fill="rgb(36,36,36)" filter="url(#blb6)"/>
<path d="M1012 376 L1052 432 L1062 482" fill="none" stroke="rgb(59,59,59)" stroke-width="22" stroke-linecap="round" stroke-linejoin="round" filter="url(#blb7)"/>
<rect x="925" y="418" width="36" height="40" fill="rgb(61,61,61)" filter="url(#blb8)"/>
<path d="M1059 132 L1048 196 L1000 214" fill="none" stroke="rgb(112,112,112)" stroke-width="14" stroke-linecap="round" stroke-linejoin="round" filter="url(#blb6)"/>
<ellipse cx="1050" cy="181" rx="3.5" ry="12" fill="rgb(140,140,140)" filter="url(#blb2)" transform="rotate(8 1050 181)"/>
<path d="M946 96 L978 130" fill="none" stroke="rgb(89,89,89)" stroke-width="13" stroke-linecap="round" stroke-linejoin="round" filter="url(#blb5)"/>
<path d="M1180 50 L1215 120" fill="none" stroke="rgb(79,79,79)" stroke-width="16" stroke-linecap="round" stroke-linejoin="round" filter="url(#blb8)"/>
<path d="M928 305 L1005 330 L1043 369 L1066 398 L1090 482" fill="none" stroke="rgb(105,105,105)" stroke-width="26" stroke-linecap="round" stroke-linejoin="round" filter="url(#blb7)"/>
<rect x="925" y="296" width="70" height="30" fill="rgb(102,102,102)" filter="url(#blb8)"/>
<ellipse cx="983" cy="402" rx="30" ry="18" fill="rgb(101,101,101)" filter="url(#blb7)"/>
<ellipse cx="1276" cy="322" rx="16" ry="12" fill="rgb(99,99,99)" filter="url(#blb6)"/>
<ellipse cx="1285" cy="102" rx="28" ry="34" fill="rgb(158,158,158)" filter="url(#blb5)"/>
<path d="M1305 93 L1368 132" fill="none" stroke="rgb(158,158,158)" stroke-width="15" stroke-linecap="round" stroke-linejoin="round" filter="url(#blb4)"/>
<ellipse cx="1285" cy="106" rx="13" ry="20" fill="rgb(191,191,191)" filter="url(#blb4)"/>
<ellipse cx="1279" cy="107" rx="3" ry="5" fill="rgb(230,230,230)" filter="url(#blb2)"/>
<ellipse cx="1127" cy="238" rx="49" ry="18" fill="rgb(143,143,143)" filter="url(#blb5)"/>
<ellipse cx="1131" cy="238" rx="30" ry="10" fill="rgb(153,153,153)" filter="url(#blb4)"/>
<ellipse cx="935" cy="273" rx="20" ry="30" fill="rgb(153,153,153)" filter="url(#blb5)"/>
<ellipse cx="930" cy="268" rx="7" ry="20" fill="rgb(170,170,170)" filter="url(#blb3)"/>
<ellipse cx="1042" cy="372" rx="35" ry="17" fill="rgb(128,128,128)" filter="url(#blb5)" transform="rotate(44 1042 372)"/>
<ellipse cx="1042" cy="372" rx="32" ry="13" fill="rgb(164,164,164)" filter="url(#blb4)" transform="rotate(44 1042 372)"/>
<ellipse cx="1045" cy="374" rx="15" ry="6.5" fill="rgb(184,184,184)" filter="url(#blb3)" transform="rotate(42 1045 374)"/>
<ellipse cx="1187" cy="446" rx="20" ry="40" fill="rgb(166,166,166)" filter="url(#blb5)"/>
<ellipse cx="1186" cy="448" rx="10" ry="28" fill="rgb(199,199,199)" filter="url(#blb4)"/>
<ellipse cx="1184" cy="450" rx="2.5" ry="6" fill="rgb(230,230,230)" filter="url(#blb2)"/>
<ellipse cx="1292" cy="438" rx="50" ry="42" fill="rgb(168,168,168)" filter="url(#blb6)"/>
<ellipse cx="1345" cy="424" rx="38" ry="33" fill="rgb(167,167,167)" filter="url(#blb6)"/>
<ellipse cx="1283" cy="438" rx="31" ry="29" fill="rgb(201,201,201)" filter="url(#blb5)"/>
<ellipse cx="1279" cy="437" rx="13" ry="11" fill="rgb(222,222,222)" filter="url(#blb4)"/>
<ellipse cx="1275" cy="440" rx="2.5" ry="6" fill="rgb(240,240,240)" filter="url(#blb2)"/>
</g>
<path d="M929 41 L1011.5 41 Q972 78 929 114 Z" fill="rgb(225,214,229)"/>
<path d="M1283 41 L1373 41 L1373 131 Z" fill="rgb(225,214,229)"/>
<path d="M929 411 L1007 485 L929 485 Z" fill="rgb(225,214,229)"/>
<path d="M1373 413 L1373 485 L1307 485 Z" fill="rgb(225,214,229)"/>
</g>
<filter id="fc" filterUnits="userSpaceOnUse" x="171" y="624" width="583.5" height="438" color-interpolation-filters="sRGB">
<feTurbulence type="fractalNoise" baseFrequency="0.3 0.3" numOctaves="2" seed="7" result="n0"/>
<feColorMatrix in="n0" type="matrix" values="2.2 0 0 0 -0.6  2.2 0 0 0 -0.6  2.2 0 0 0 -0.6  0 0 0 0 1" result="n"/>
<feComposite in="SourceGraphic" in2="n" operator="arithmetic" k1="0.15" k2="0.9250" k3="0.042" k4="-0.0210" result="s"/>
<feComponentTransfer in="s"><feFuncR type="table" tableValues="0.882 0.855 0.820 0.776 0.725 0.659 0.588 0.514 0.439 0.369 0.251 0.118 0.016 0.000 0.000 0.016 0.024 0.392 0.961 0.949 0.886"/><feFuncG type="table" tableValues="0.835 0.796 0.753 0.698 0.631 0.553 0.467 0.365 0.259 0.173 0.118 0.180 0.314 0.439 0.580 0.612 0.620 0.745 0.933 0.541 0.055"/><feFuncB type="table" tableValues="0.898 0.871 0.839 0.800 0.753 0.690 0.620 0.541 0.455 0.447 0.486 0.573 0.667 0.784 0.855 0.588 0.259 0.173 0.086 0.102 0.110"/><feFuncA type="linear" slope="0" intercept="1"/></feComponentTransfer>
</filter>
<defs><clipPath id="clipC"><rect x="171" y="624" width="583.5" height="438"/></clipPath><linearGradient id="efC" x1="0" x2="0" y1="0" y2="1"><stop offset="0" stop-color="rgb(225,213,229)"/><stop offset="0.815" stop-color="rgb(225,213,229)"/><stop offset="0.868" stop-color="rgb(158,124,166)"/><stop offset="0.915" stop-color="rgb(102,56,112)" stop-opacity="0.85"/><stop offset="1" stop-color="rgb(102,56,112)" stop-opacity="0"/></linearGradient></defs>
<g clip-path="url(#clipC)"><g filter="url(#fc)">
<rect x="141" y="594" width="643.5" height="498" fill="rgb(102,102,102)"/>
<rect x="240" y="822" width="194" height="290" fill="rgb(60,60,60)" filter="url(#blc10)"/>
<rect x="236" y="800" width="204" height="40" fill="rgb(84,84,84)" filter="url(#blc8)"/>
<rect x="258" y="860" width="150" height="250" fill="rgb(46,46,46)" filter="url(#blc14)"/>
<rect x="238" y="690" width="204" height="68" fill="rgb(91,91,91)" filter="url(#blc9)"/>
<rect x="258" y="700" width="160" height="46" fill="rgb(78,78,78)" filter="url(#blc12)"/>
<rect x="225" y="776" width="240" height="22" fill="rgb(112,112,112)" filter="url(#blc5)"/>
<rect x="330" y="779" width="130" height="15" fill="rgb(122,122,122)" filter="url(#blc5)"/>
<rect x="160" y="686" width="48" height="80" fill="rgb(105,105,105)" filter="url(#blc6)"/>
<rect x="160" y="806" width="62" height="300" fill="rgb(79,79,79)" filter="url(#blc10)"/>
<rect x="160" y="880" width="54" height="220" fill="rgb(68,68,68)" filter="url(#blc10)"/>
<rect x="228" y="664" width="232" height="12" fill="rgb(117,117,117)" filter="url(#blc3)"/>
<rect x="287" y="664" width="136" height="14" fill="rgb(153,153,153)" filter="url(#blc4)"/>
<ellipse cx="378" cy="671" rx="42" ry="6" fill="rgb(173,173,173)" filter="url(#blc3)"/>
<rect x="160" y="664" width="56" height="15" fill="rgb(163,163,163)" filter="url(#blc4)"/>
<ellipse cx="196" cy="680" rx="32" ry="10" fill="rgb(158,158,158)" filter="url(#blc4)"/>
<rect x="163" y="676" width="13" height="28" fill="rgb(148,148,148)" filter="url(#blc4)"/>
<ellipse cx="192" cy="671" rx="26" ry="8" fill="rgb(204,204,204)" filter="url(#blc3)"/>
<ellipse cx="173" cy="671" rx="8" ry="4.5" fill="rgb(255,255,255)" filter="url(#blc2)"/>
<rect x="160" y="772" width="60" height="29" fill="rgb(149,149,149)" filter="url(#blc5)"/>
<path d="M208 676 L220 676 L229 770 L232 800 L227 840 L219 840 L213 800 L213 760 Z" fill="rgb(138,138,138)" filter="url(#blc3)"/>
<ellipse cx="222" cy="790" rx="9" ry="26" fill="rgb(173,173,173)" filter="url(#blc4)"/>
<ellipse cx="222" cy="790" rx="4.5" ry="8" fill="rgb(195,195,195)" filter="url(#blc2)"/>
<path d="M219 835 L232 835 L246 1070 L232 1070 Z" fill="rgb(99,99,99)" filter="url(#blc5)"/>
<rect x="436" y="664" width="30" height="410" fill="rgb(110,110,110)" filter="url(#blc6)"/>
<rect x="448" y="664" width="18" height="190" fill="rgb(120,120,120)" filter="url(#blc4)"/>
<rect x="450" y="850" width="16" height="230" fill="rgb(112,112,112)" filter="url(#blc5)"/>
<rect x="470" y="664" width="300" height="114" fill="rgb(136,136,136)" filter="url(#blc5)"/>
<rect x="476" y="668" width="72" height="96" fill="rgb(142,142,142)" filter="url(#blc8)"/>
<ellipse cx="652" cy="712" rx="96" ry="37" fill="rgb(113,113,113)" filter="url(#blc10)"/>
<ellipse cx="628" cy="708" rx="46" ry="24" fill="rgb(94,94,94)" filter="url(#blc12)"/>
<rect x="592" y="666" width="58" height="22" fill="rgb(115,115,115)" filter="url(#blc6)"/>
<ellipse cx="545" cy="672" rx="40" ry="7" fill="rgb(153,153,153)" filter="url(#blc4)"/>
<ellipse cx="700" cy="676" rx="38" ry="6" fill="rgb(128,128,128)" filter="url(#blc4)"/>
<ellipse cx="762" cy="720" rx="12" ry="50" fill="rgb(158,158,158)" filter="url(#blc5)"/>
<rect x="474" y="798" width="70" height="24" fill="rgb(133,133,133)" filter="url(#blc6)"/>
<rect x="498" y="835" width="46" height="250" fill="rgb(130,130,130)" filter="url(#blc7)"/>
<rect x="471" y="822" width="38" height="270" fill="rgb(102,102,102)" filter="url(#blc6)"/>
<path d="M548 828 L770 828 L770 1080 L512 1080 Z" fill="rgb(173,173,173)" filter="url(#blc5)"/>
<rect x="546" y="838" width="230" height="46" fill="rgb(185,185,185)" filter="url(#blc8)"/>
<path d="M507 776 L770 772 L770 846 L520 846 Z" fill="rgb(198,198,198)" filter="url(#blc6)"/>
<rect x="478" y="778" width="40" height="26" fill="rgb(184,184,184)" filter="url(#blc5)"/>
<ellipse cx="582" cy="808" rx="27" ry="18" fill="rgb(212,212,212)" filter="url(#blc6)"/>
<ellipse cx="604" cy="799" rx="6" ry="6" fill="rgb(227,227,227)" filter="url(#blc3)"/>
<ellipse cx="568" cy="803" rx="5" ry="5" fill="rgb(230,230,230)" filter="url(#blc3)"/>
<ellipse cx="590" cy="825" rx="10" ry="8" fill="rgb(219,219,219)" filter="url(#blc4)"/>
<ellipse cx="681" cy="812" rx="16" ry="26" fill="rgb(213,213,213)" filter="url(#blc6)"/>
<ellipse cx="679" cy="806" rx="7" ry="6" fill="rgb(230,230,230)" filter="url(#blc3)"/>
<ellipse cx="676" cy="845" rx="9" ry="20" fill="rgb(212,212,212)" filter="url(#blc5)"/>
<ellipse cx="754" cy="794" rx="7" ry="15" fill="rgb(224,224,224)" filter="url(#blc3)"/>
<ellipse cx="727" cy="789" rx="6" ry="5" fill="rgb(219,219,219)" filter="url(#blc3)"/>
<ellipse cx="640" cy="800" rx="20" ry="9" fill="rgb(204,204,204)" filter="url(#blc5)"/>
<rect x="660" y="850" width="24" height="110" fill="rgb(190,190,190)" filter="url(#blc8)"/>
<rect x="548" y="850" width="30" height="170" fill="rgb(182,182,182)" filter="url(#blc8)"/>
<path d="M586 888 L602 888 L620 1070 L568 1070 Z" fill="rgb(145,145,145)" filter="url(#blc7)"/>
<rect x="714" y="845" width="30" height="190" fill="rgb(150,150,150)" filter="url(#blc7)"/>
<rect x="749" y="1010" width="8" height="60" fill="rgb(204,204,204)" filter="url(#blc3)"/>
<rect x="500" y="758" width="260" height="12" fill="rgb(145,145,145)" filter="url(#blc4)"/>
<path d="M464 664 L478 664 L476 790 L472 850 L468 850 L465 790 Z" fill="rgb(163,163,163)" filter="url(#blc3)"/>
<path d="M461 664 L502 664 L474 706 Z" fill="rgb(189,189,189)" filter="url(#blc3)"/>
<ellipse cx="479" cy="673" rx="6" ry="6" fill="rgb(230,230,230)" filter="url(#blc2)"/>
<ellipse cx="470" cy="790" rx="8" ry="26" fill="rgb(209,209,209)" filter="url(#blc3)"/>
<ellipse cx="470" cy="790" rx="16" ry="7" fill="rgb(199,199,199)" filter="url(#blc4)"/>
<ellipse cx="469" cy="791" rx="4.5" ry="11" fill="rgb(242,242,242)" filter="url(#blc2)"/>
</g>
<rect x="171" y="624" width="583.5" height="44" fill="url(#efC)"/>
</g>
<filter id="fd" filterUnits="userSpaceOnUse" x="917.5" y="631.8" width="463.7" height="189" color-interpolation-filters="sRGB">
<feTurbulence type="fractalNoise" baseFrequency="0.13 0.2" numOctaves="2" seed="11" result="n0"/>
<feColorMatrix in="n0" type="matrix" values="2.2 0 0 0 -0.6  2.2 0 0 0 -0.6  2.2 0 0 0 -0.6  0 0 0 0 1" result="n"/>
<feComposite in="SourceGraphic" in2="n" operator="arithmetic" k1="0.17" k2="0.9150" k3="0.012" k4="-0.0060" result="s"/>
<feComponentTransfer in="s"><feFuncR type="table" tableValues="0.882 0.855 0.820 0.776 0.725 0.659 0.588 0.514 0.439 0.369 0.251 0.118 0.016 0.000 0.000 0.016 0.024 0.392 0.961 0.949 0.886"/><feFuncG type="table" tableValues="0.835 0.796 0.753 0.698 0.631 0.553 0.467 0.365 0.259 0.173 0.118 0.180 0.314 0.439 0.580 0.612 0.620 0.745 0.933 0.541 0.055"/><feFuncB type="table" tableValues="0.898 0.871 0.839 0.800 0.753 0.690 0.620 0.541 0.455 0.447 0.486 0.573 0.667 0.784 0.855 0.588 0.259 0.173 0.086 0.102 0.110"/><feFuncA type="linear" slope="0" intercept="1"/></feComponentTransfer>
</filter>
<defs><clipPath id="clipD"><rect x="917.5" y="631.8" width="463.7" height="189"/></clipPath></defs>
<g clip-path="url(#clipD)"><g filter="url(#fd)">
<rect x="887.5" y="601.8" width="523.7" height="249" fill="rgb(18,18,18)"/>
<rect x="890" y="600" width="520" height="112" fill="rgb(51,51,51)" filter="url(#bld12)"/>
<rect x="890" y="600" width="520" height="94" fill="rgb(87,87,87)" filter="url(#bld6)"/>
<rect x="890" y="600" width="520" height="82" fill="rgb(117,117,117)" filter="url(#bld3)"/>
<rect x="963" y="640" width="14" height="200" fill="rgb(117,117,117)" filter="url(#bld5)" opacity="0.22"/>
<rect x="1311" y="640" width="24" height="200" fill="rgb(117,117,117)" filter="url(#bld7)" opacity="0.36"/>
<rect x="1120" y="660" width="100" height="75" fill="rgb(117,117,117)" filter="url(#bld12)" opacity="0.28"/>
<rect x="905" y="660" width="40" height="70" fill="rgb(117,117,117)" filter="url(#bld10)" opacity="0.3"/>
<rect x="1350" y="660" width="50" height="60" fill="rgb(117,117,117)" filter="url(#bld10)" opacity="0.25"/>
<rect x="1050" y="660" width="30" height="60" fill="rgb(117,117,117)" filter="url(#bld8)" opacity="0.15"/>
<path d="M890 600 L1410 600 L1410 668 L1340 667 L1300 670 L1275 662 L1255 664 L1230 675 L1160 680 L1090 676 L1060 668 L1010 665 L960 670 L920 673 L890 673 Z" fill="rgb(153,153,153)" filter="url(#bld3)"/>
<rect x="958" y="628" width="92" height="26" fill="rgb(138,138,138)" filter="url(#bld5)"/>
<ellipse cx="1010" cy="640" rx="14" ry="10" fill="rgb(128,128,128)" filter="url(#bld4)"/>
<ellipse cx="942" cy="645" rx="20" ry="15" fill="rgb(173,173,173)" filter="url(#bld5)"/>
<ellipse cx="919" cy="645" rx="5" ry="12" fill="rgb(204,204,204)" filter="url(#bld3)"/>
<ellipse cx="1300" cy="641" rx="18" ry="11" fill="rgb(171,171,171)" filter="url(#bld5)"/>
<ellipse cx="1355" cy="642" rx="16" ry="10" fill="rgb(168,168,168)" filter="url(#bld5)"/>
<ellipse cx="1240" cy="640" rx="14" ry="10" fill="rgb(143,143,143)" filter="url(#bld4)"/>
<ellipse cx="1158" cy="640" rx="92" ry="24" fill="rgb(176,176,176)" filter="url(#bld5)"/>
<ellipse cx="1152" cy="634" rx="80" ry="19" fill="rgb(200,200,200)" filter="url(#bld4)"/>
<ellipse cx="1133" cy="636" rx="18" ry="10" fill="rgb(219,219,219)" filter="url(#bld3)"/>
<ellipse cx="1175" cy="634" rx="10" ry="8" fill="rgb(222,222,222)" filter="url(#bld3)"/>
<ellipse cx="1143" cy="632" rx="2.5" ry="3.5" fill="rgb(242,242,242)" filter="url(#bld1)"/>
</g></g>
<rect x="917" y="622.5" width="465" height="9.4" fill="#fff"/>
<path d="M1074 631.5 Q1164 655.5 1254.5 631.5" fill="none" stroke="#fff" stroke-width="4.6" stroke-dasharray="8 5.6" stroke-dashoffset="3"/>
<path d="M1006.9 1066.5 C1007.9 1056.5 1012.6 1052.5 1014.6 1044.5 S1024.0 1030.5 1030.0 1021.5 C1044.6 1003.8 1066.5 979.8 1078.6 968.0 S1083.0 958.0 1083.0 953.0 L1084.0 944.0" fill="none" stroke="#e8202a" stroke-width="1"/>
<path d="M1023.4 1066.5 C1024.4 1056.5 1029.1 1052.5 1031.1 1044.5 S1040.5 1030.5 1046.5 1021.5 C1061.1 1004.5 1083.0 981.3 1095.1 970.0 S1099.5 960.0 1099.5 955.0 L1100.5 946.0" fill="none" stroke="#e8202a" stroke-width="1"/>
<path d="M1039.4 1066.5 C1040.4 1056.5 1045.2 1052.5 1047.2 1044.5 S1056.7 1030.5 1062.7 1021.5 C1077.3 1004.5 1099.3 981.3 1111.6 970.0 S1116.0 960.0 1116.0 955.0 L1117.0 946.0" fill="none" stroke="#e8202a" stroke-width="1"/>
<path d="M1056.4 1066.5 C1057.4 1056.5 1061.4 1052.5 1063.4 1044.5 S1071.3 1030.5 1077.3 1021.5 C1090.4 1004.5 1110.2 981.3 1121.1 970.0 S1125.0 960.0 1125.0 955.0 L1126.0 946.0" fill="none" stroke="#e8202a" stroke-width="1"/>
<path d="M1071.3 1066.5 C1072.3 1056.5 1077.6 1052.5 1079.6 1044.5 S1090.1 1030.5 1096.1 1021.5 C1111.7 1004.5 1135.2 981.3 1148.2 970.0 S1153.0 960.0 1153.0 955.0 L1154.0 946.0" fill="none" stroke="#e8202a" stroke-width="1"/>
<path d="M1086.3 1066.5 C1087.3 1056.5 1092.6 1052.5 1094.6 1044.5 S1105.3 1030.5 1111.3 1021.5 C1127.0 1004.5 1150.6 981.3 1163.7 970.0 S1168.5 960.0 1168.5 955.0 L1169.5 946.0" fill="none" stroke="#e8202a" stroke-width="1"/>
<path d="M1101.5 1066.5 C1102.5 1056.5 1109.0 1052.5 1111.0 1044.5 S1123.8 1030.5 1129.8 1021.5 C1147.7 1003.8 1174.5 979.8 1189.4 968.0 S1195.0 958.0 1195.0 953.0 L1196.0 944.0" fill="none" stroke="#e8202a" stroke-width="1"/>
<path d="M1117.3 1066.5 C1118.3 1056.5 1123.2 1052.5 1125.2 1044.5 S1135.1 1030.5 1141.1 1021.5 C1156.0 1005.8 1178.5 984.5 1191.0 974.0 S1195.5 964.0 1195.5 959.0 L1196.5 950.0" fill="none" stroke="#e8202a" stroke-width="1"/>
<path d="M1133.3 1066.5 C1134.3 1056.5 1139.7 1052.5 1141.7 1044.5 S1152.4 1030.5 1158.4 1021.5 C1174.2 1004.5 1198.0 981.3 1211.1 970.0 S1216.0 960.0 1216.0 955.0 L1217.0 946.0" fill="none" stroke="#e8202a" stroke-width="1"/>
<path d="M1148.5 1066.5 C1149.5 1056.5 1155.2 1052.5 1157.2 1044.5 S1168.8 1030.5 1174.8 1021.5 C1191.3 1004.5 1216.1 981.3 1229.9 970.0 S1235.0 960.0 1235.0 955.0 L1236.0 946.0" fill="none" stroke="#e8202a" stroke-width="1"/>
<path d="M1163.2 1066.5 C1164.2 1056.5 1169.2 1052.5 1171.2 1044.5 S1181.1 1030.5 1187.1 1021.5 C1202.2 1004.5 1224.8 981.3 1237.4 970.0 S1242.0 960.0 1242.0 955.0 L1243.0 946.0" fill="none" stroke="#e8202a" stroke-width="1"/>
<path d="M1178.2 1066.5 C1179.2 1056.5 1184.1 1052.5 1186.1 1044.5 S1195.8 1030.5 1201.8 1021.5 C1216.7 1004.5 1239.1 981.3 1251.5 970.0 S1256.0 960.0 1256.0 955.0 L1257.0 946.0" fill="none" stroke="#e8202a" stroke-width="1"/>
<path d="M1191.7 1066.5 C1192.7 1056.5 1197.0 1052.5 1199.0 1044.5 S1207.7 1030.5 1213.7 1021.5 C1227.5 1004.5 1248.3 981.3 1259.9 970.0 S1264.0 960.0 1264.0 955.0 L1265.0 946.0" fill="none" stroke="#e8202a" stroke-width="1"/>
<path d="M1204.6 1066.5 C1205.6 1056.5 1209.2 1052.5 1211.2 1044.5 S1218.4 1030.5 1224.4 1021.5 C1236.8 1004.5 1255.5 981.3 1265.9 970.0 S1269.5 960.0 1269.5 955.0 L1270.5 946.0" fill="none" stroke="#e8202a" stroke-width="1"/>
<path d="M1217.8 1066.5 C1218.8 1056.5 1222.1 1052.5 1224.1 1044.5 S1230.8 1030.5 1236.8 1021.5 C1248.7 1004.5 1266.6 981.3 1276.6 970.0 S1280.0 960.0 1280.0 955.0 L1281.0 946.0" fill="none" stroke="#e8202a" stroke-width="1"/>
<path d="M1233.6 1066.5 C1234.6 1056.5 1236.8 1052.5 1238.8 1044.5 S1243.3 1030.5 1249.3 1021.5 C1259.2 1004.5 1274.1 981.3 1282.3 970.0 S1285.0 960.0 1285.0 955.0 L1286.0 946.0" fill="none" stroke="#e8202a" stroke-width="1"/>
<path d="M1247.0 1066.5 C1248.0 1056.5 1250.5 1052.5 1252.5 1044.5 S1257.5 1030.5 1263.5 1021.5 C1273.9 1003.8 1289.5 979.8 1298.2 968.0 S1301.0 958.0 1301.0 953.0 L1302.0 944.0" fill="none" stroke="#e8202a" stroke-width="1"/>
<path d="M1126 946 Q1130 952 1133.8 959" fill="none" stroke="#e8202a" stroke-width="1"/>
<path d="M1169.5 946 Q1170 956 1172.6 965" fill="none" stroke="#e8202a" stroke-width="1"/>
<path d="M1196.5 950 Q1201 957 1200.6 965" fill="none" stroke="#e8202a" stroke-width="1"/>
<path d="M1281 946 L1285.3 952.5 M1286 946 L1288.4 952.5" fill="none" stroke="#e8202a" stroke-width="1"/>
<circle cx="1083.5" cy="946.4" r="4.1" fill="#231815"/>
<circle cx="1100.5" cy="952.5" r="4.1" fill="#231815"/>
<circle cx="1117" cy="952.5" r="4.1" fill="#231815"/>
<circle cx="1133.8" cy="959.1" r="4.1" fill="#231815"/>
<circle cx="1156.4" cy="952.5" r="4.1" fill="#231815"/>
<circle cx="1172.6" cy="965.2" r="4.1" fill="#231815"/>
<circle cx="1196.2" cy="946.4" r="4.1" fill="#231815"/>
<circle cx="1200.6" cy="965.2" r="4.1" fill="#231815"/>
<circle cx="1217" cy="952.5" r="4.1" fill="#231815"/>
<circle cx="1236.6" cy="952.5" r="4.1" fill="#231815"/>
<circle cx="1245.7" cy="952.5" r="4.1" fill="#231815"/>
<circle cx="1256.7" cy="959.1" r="4.1" fill="#231815"/>
<circle cx="1266" cy="959.1" r="4.1" fill="#231815"/>
<circle cx="1271.1" cy="959.1" r="4.1" fill="#231815"/>
<circle cx="1285.3" cy="952.5" r="4.1" fill="#231815"/>
<circle cx="1288.4" cy="952.5" r="4.1" fill="#231815"/>
<circle cx="1301.9" cy="946.9" r="4.1" fill="#231815"/>
<path d="M1055 941.3 H1329" stroke="#111" stroke-width="1.2" stroke-dasharray="5.5 4.2" fill="none"/>
<path d="M990.4 1048.6 H1270" stroke="#231815" stroke-width="1.3" fill="none"/>
<path d="M1279.5 1048.6 L1265.5 1043.5 L1269 1048.6 L1265.5 1053.7 Z" fill="#231815"/>
<text x="38.8" y="46.6" font-family="Liberation Sans, sans-serif" font-size="37.5" fill="#000" textLength="45.5" lengthAdjust="spacingAndGlyphs">(a)</text>
<text x="818.8" y="47.3" font-family="Liberation Sans, sans-serif" font-size="37.5" fill="#000" textLength="47" lengthAdjust="spacingAndGlyphs">(b)</text>
<text x="38.8" y="618.6" font-family="Liberation Sans, sans-serif" font-size="37.5" fill="#000" textLength="42.6" lengthAdjust="spacingAndGlyphs">(c)</text>
<text x="803.3" y="619.4" font-family="Liberation Sans, sans-serif" font-size="37.5" fill="#000" textLength="46" lengthAdjust="spacingAndGlyphs">(d)</text>
<text x="802.5" y="930.4" font-family="Liberation Sans, sans-serif" font-size="37.5" fill="#000" textLength="46.2" lengthAdjust="spacingAndGlyphs">(e)</text>
<rect x="167" y="620" width="592" height="446" fill="none" stroke="#000" stroke-width="4"/>
<rect x="147" y="659.5" width="19" height="5" fill="#000"/>
<text x="91.69999999999999" y="671.5" font-family="Liberation Sans, sans-serif" font-size="34" fill="#000" textLength="48.5" lengthAdjust="spacingAndGlyphs">0.0</text>
<rect x="147" y="759.5" width="19" height="5" fill="#000"/>
<text x="82.39999999999999" y="771.5" font-family="Liberation Sans, sans-serif" font-size="34" fill="#000" textLength="57.8" lengthAdjust="spacingAndGlyphs">-0.2</text>
<rect x="147" y="859.5" width="19" height="5" fill="#000"/>
<text x="82.39999999999999" y="871.5" font-family="Liberation Sans, sans-serif" font-size="34" fill="#000" textLength="57.8" lengthAdjust="spacingAndGlyphs">-0.4</text>
<rect x="147" y="959.5" width="19" height="5" fill="#000"/>
<text x="82.39999999999999" y="971.5" font-family="Liberation Sans, sans-serif" font-size="34" fill="#000" textLength="57.8" lengthAdjust="spacingAndGlyphs">-0.6</text>
<rect x="147" y="1059.5" width="19" height="5" fill="#000"/>
<text x="82.39999999999999" y="1071.5" font-family="Liberation Sans, sans-serif" font-size="34" fill="#000" textLength="57.8" lengthAdjust="spacingAndGlyphs">-0.8</text>
<rect x="235.2" y="1067" width="5" height="18" fill="#000"/>
<text x="205" y="1123.6" font-family="Liberation Sans, sans-serif" font-size="34" fill="#000" textLength="57" lengthAdjust="spacingAndGlyphs">-1.5</text>
<rect x="369.7" y="1067" width="5" height="18" fill="#000"/>
<text x="340" y="1123.6" font-family="Liberation Sans, sans-serif" font-size="34" fill="#000" textLength="57" lengthAdjust="spacingAndGlyphs">-1.0</text>
<rect x="503.5" y="1067" width="5" height="18" fill="#000"/>
<text x="474" y="1123.6" font-family="Liberation Sans, sans-serif" font-size="34" fill="#000" textLength="56.3" lengthAdjust="spacingAndGlyphs">-0.5</text>
<rect x="637.9" y="1067" width="5" height="18" fill="#000"/>
<text x="620.9" y="1123.6" font-family="Liberation Sans, sans-serif" font-size="34" fill="#000" textLength="44.3" lengthAdjust="spacingAndGlyphs">0.0</text>
<text x="318" y="1174.8" font-family="Liberation Sans, sans-serif" font-size="38" fill="#000" textLength="277" lengthAdjust="spacingAndGlyphs">Momentum (Å<tspan font-size="19" dy="-16">-1</tspan><tspan dy="16">)</tspan></text>
<text x="66.5" y="906.3" font-family="Liberation Sans, sans-serif" font-size="38" fill="#000" textLength="140.4" lengthAdjust="spacingAndGlyphs" transform="rotate(-90 66.5 906.3)">E-E<tspan font-size="20">F</tspan> (eV)</text>
<rect x="928.5" y="40.5" width="445" height="445" fill="none" stroke="#000" stroke-width="3"/>
<rect x="919" y="103.7" width="9" height="4" fill="#000"/>
<text x="871.0" y="114.9" font-family="Liberation Sans, sans-serif" font-size="28" fill="#000" textLength="36.6" lengthAdjust="spacingAndGlyphs">1.0</text>
<rect x="919" y="188.3" width="9" height="4" fill="#000"/>
<text x="871.0" y="199.5" font-family="Liberation Sans, sans-serif" font-size="28" fill="#000" textLength="36.6" lengthAdjust="spacingAndGlyphs">0.5</text>
<rect x="919" y="272.9" width="9" height="4" fill="#000"/>
<text x="871.0" y="284.09999999999997" font-family="Liberation Sans, sans-serif" font-size="28" fill="#000" textLength="36.6" lengthAdjust="spacingAndGlyphs">0.0</text>
<rect x="919" y="357.5" width="9" height="4" fill="#000"/>
<text x="861.0" y="368.7" font-family="Liberation Sans, sans-serif" font-size="28" fill="#000" textLength="46.6" lengthAdjust="spacingAndGlyphs">-0.5</text>
<rect x="919" y="442.09999999999997" width="9" height="4" fill="#000"/>
<text x="861.0" y="453.29999999999995" font-family="Liberation Sans, sans-serif" font-size="28" fill="#000" textLength="46.6" lengthAdjust="spacingAndGlyphs">-1.0</text>
<rect x="962.5" y="486" width="4" height="9" fill="#000"/>
<text x="948" y="523.4" font-family="Liberation Sans, sans-serif" font-size="28" fill="#000" textLength="37.6" lengthAdjust="spacingAndGlyphs">2.0</text>
<rect x="1046.7" y="486" width="4" height="9" fill="#000"/>
<text x="1033" y="523.4" font-family="Liberation Sans, sans-serif" font-size="28" fill="#000" textLength="36" lengthAdjust="spacingAndGlyphs">1.5</text>
<rect x="1131" y="486" width="4" height="9" fill="#000"/>
<text x="1118" y="523.4" font-family="Liberation Sans, sans-serif" font-size="28" fill="#000" textLength="35.6" lengthAdjust="spacingAndGlyphs">1.0</text>
<rect x="1215.2" y="486" width="4" height="9" fill="#000"/>
<text x="1202.2" y="523.4" font-family="Liberation Sans, sans-serif" font-size="28" fill="#000" textLength="36.1" lengthAdjust="spacingAndGlyphs">0.5</text>
<rect x="1299.4" y="486" width="4" height="9" fill="#000"/>
<text x="1286.4" y="523.4" font-family="Liberation Sans, sans-serif" font-size="28" fill="#000" textLength="39" lengthAdjust="spacingAndGlyphs">0.0</text>
<text x="931.6" y="566" font-family="Liberation Sans, sans-serif" font-size="25" fill="#000" textLength="38.4" lengthAdjust="spacingAndGlyphs">low</text>
<text x="1092.8" y="566" font-family="Liberation Sans, sans-serif" font-size="25" fill="#000" textLength="45" lengthAdjust="spacingAndGlyphs">high</text>
<rect x="973.7" y="552" width="114.6" height="15.8" fill="url(#cbarB)"/>
<text x="1177.8" y="568.6" font-family="Liberation Sans, sans-serif" font-size="33.5" fill="#000" textLength="85.4" lengthAdjust="spacingAndGlyphs">k<tspan font-size="17" font-weight="bold">x</tspan> (Å<tspan font-size="15" dy="-13">-1</tspan><tspan dy="13">)</tspan></text>
<text x="848" y="313.7" font-family="Liberation Sans, sans-serif" font-size="33.5" fill="#000" textLength="87" lengthAdjust="spacingAndGlyphs" transform="rotate(-90 848 313.7)">k<tspan font-size="17" font-weight="bold">y</tspan> (Å<tspan font-size="15" dy="-13">-1</tspan><tspan dy="13">)</tspan></text>
<text x="1121" y="190" font-family="Liberation Sans, sans-serif" font-size="27.5" fill="#fff" textLength="170.4" lengthAdjust="spacingAndGlyphs">heavy electron</text>
<path d="M1205.9 205.6 L1186.5 232.4" stroke="#fff" stroke-width="1.6" fill="none"/><path d="M1185.2 234.2 l3 -8.5 l4.6 3.4 z" fill="#fff"/>
<text x="1177" y="341.6" font-family="Liberation Sans, sans-serif" font-size="27.5" fill="#fff" textLength="49.6" lengthAdjust="spacingAndGlyphs">hole</text>
<path d="M1229.6 327.4 L1254.5 313.1" stroke="#fff" stroke-width="1.6" fill="none"/><path d="M1256.5 312 l-8.7 1.9 l2.8 5 z" fill="#fff"/>
<text x="949.5" y="470.6" font-family="Liberation Sans, sans-serif" font-size="31" fill="#fff" textLength="148.3" lengthAdjust="spacingAndGlyphs"><tspan font-style="italic">hν</tspan> = 135eV</text>
<text x="1105.5" y="123.3" font-family="Liberation Serif, sans-serif" font-size="27" fill="#fff" textLength="15" lengthAdjust="spacingAndGlyphs" font-style="italic">Γ</text>
<rect x="1108" y="100.6" width="12.5" height="1.6" fill="#fff"/>
<text x="1101.5" y="312.4" font-family="Liberation Serif, sans-serif" font-size="27" fill="#fff" textLength="22" lengthAdjust="spacingAndGlyphs" font-style="italic">M</text>
<rect x="1106" y="289.8" width="17" height="1.6" fill="#fff"/>
<text x="1291.7" y="313.7" font-family="Liberation Serif, sans-serif" font-size="27" fill="#fff" textLength="15.7" lengthAdjust="spacingAndGlyphs" font-style="italic">Γ</text>
<rect x="1294.5" y="291.2" width="12.5" height="1.6" fill="#fff"/>
<circle cx="1130.4" cy="93" r="4" fill="#fff"/>
<circle cx="1130.4" cy="278.6" r="4" fill="#fff"/>
<circle cx="1316.3" cy="278.6" r="4" fill="#fff"/>
<text x="339.7" y="651" font-family="Liberation Serif, sans-serif" font-size="25.5" fill="#000" textLength="20.5" lengthAdjust="spacingAndGlyphs" font-style="italic">M</text>
<rect x="344.7" y="629" width="16" height="2" fill="#000"/>
<text x="636.5" y="651" font-family="Liberation Serif, sans-serif" font-size="25.5" fill="#000" textLength="15" lengthAdjust="spacingAndGlyphs" font-style="italic">Γ</text>
<rect x="638.8" y="629" width="13" height="2" fill="#000"/>
<rect x="916" y="621" width="467" height="202" fill="none" stroke="#000" stroke-width="4"/>
<rect x="904" y="627.6999999999999" width="11" height="4.4" fill="#000"/>
<text x="868.5" y="638.5" font-family="Liberation Sans, sans-serif" font-size="29" fill="#000" textLength="33.2" lengthAdjust="spacingAndGlyphs">20</text>
<rect x="904" y="673.8" width="11" height="4.4" fill="#000"/>
<text x="883.5" y="684.6" font-family="Liberation Sans, sans-serif" font-size="29" fill="#000" textLength="18.2" lengthAdjust="spacingAndGlyphs">0</text>
<rect x="904" y="719.4" width="11" height="4.4" fill="#000"/>
<text x="859.3000000000001" y="730.2" font-family="Liberation Sans, sans-serif" font-size="29" fill="#000" textLength="42.4" lengthAdjust="spacingAndGlyphs">-20</text>
<rect x="904" y="765.1999999999999" width="11" height="4.4" fill="#000"/>
<text x="859.3000000000001" y="776.0" font-family="Liberation Sans, sans-serif" font-size="29" fill="#000" textLength="42.4" lengthAdjust="spacingAndGlyphs">-40</text>
<rect x="904" y="811.0999999999999" width="11" height="4.4" fill="#000"/>
<text x="859.3000000000001" y="821.9" font-family="Liberation Sans, sans-serif" font-size="29" fill="#000" textLength="42.4" lengthAdjust="spacingAndGlyphs">-60</text>
<rect x="968.8000000000001" y="824" width="4.8" height="13" fill="#000"/>
<text x="942.5" y="861.8" font-family="Liberation Sans, sans-serif" font-size="29" fill="#000" textLength="47.5" lengthAdjust="spacingAndGlyphs">-1.6</text>
<rect x="1039.8" y="824" width="4.8" height="13" fill="#000"/>
<text x="1013.5" y="861.8" font-family="Liberation Sans, sans-serif" font-size="29" fill="#000" textLength="47.5" lengthAdjust="spacingAndGlyphs">-1.4</text>
<rect x="1110.8" y="824" width="4.8" height="13" fill="#000"/>
<text x="1084.5" y="861.8" font-family="Liberation Sans, sans-serif" font-size="29" fill="#000" textLength="47.5" lengthAdjust="spacingAndGlyphs">-1.2</text>
<rect x="1182.1" y="824" width="4.8" height="13" fill="#000"/>
<text x="1155.8" y="861.8" font-family="Liberation Sans, sans-serif" font-size="29" fill="#000" textLength="47.5" lengthAdjust="spacingAndGlyphs">-1.0</text>
<rect x="1253.3" y="824" width="4.8" height="13" fill="#000"/>
<text x="1227.0" y="861.8" font-family="Liberation Sans, sans-serif" font-size="29" fill="#000" textLength="47.5" lengthAdjust="spacingAndGlyphs">-0.8</text>
<rect x="1323.8999999999999" y="824" width="4.8" height="13" fill="#000"/>
<text x="1297.6" y="861.8" font-family="Liberation Sans, sans-serif" font-size="29" fill="#000" textLength="47.5" lengthAdjust="spacingAndGlyphs">-0.6</text>
<rect x="933.8" y="877.8" width="115.2" height="18.8" fill="url(#cbarD)"/>
<text x="888.5" y="895.2" font-family="Liberation Sans, sans-serif" font-size="27" fill="#000" textLength="42.3" lengthAdjust="spacingAndGlyphs">low</text>
<text x="1055.2" y="895.2" font-family="Liberation Sans, sans-serif" font-size="27" fill="#000" textLength="50.8" lengthAdjust="spacingAndGlyphs">high</text>
<text x="1122.4" y="901.6" font-family="Liberation Sans, sans-serif" font-size="35.5" fill="#000" textLength="247.8" lengthAdjust="spacingAndGlyphs">Momentum (Å<tspan font-size="19" dy="-16">-1</tspan><tspan dy="16">)</tspan></text>
<text x="842.8" y="810" font-family="Liberation Sans, sans-serif" font-size="36" fill="#000" textLength="163" lengthAdjust="spacingAndGlyphs" transform="rotate(-90 842.8 810)">E-E<tspan font-size="19.5">F</tspan> (meV)</text>
<rect x="963" y="930" width="4" height="140.5" fill="#000"/>
<rect x="963" y="1066.5" width="390.4" height="4" fill="#000"/>
<rect x="955.7" y="937.7" width="8" height="3.6" fill="#000"/>
<rect x="955.7" y="969.8000000000001" width="8" height="3.6" fill="#000"/>
<rect x="955.7" y="1000.8000000000001" width="8" height="3.6" fill="#000"/>
<rect x="955.7" y="1032.2" width="8" height="3.6" fill="#000"/>
<rect x="955.7" y="1064.2" width="8" height="3.6" fill="#000"/>
<text x="921" y="948.3" font-family="Liberation Sans, sans-serif" font-size="28.5" fill="#000" textLength="30.8" lengthAdjust="spacingAndGlyphs">20</text>
<text x="936.9" y="1011.5" font-family="Liberation Sans, sans-serif" font-size="28.5" fill="#000" textLength="14.9" lengthAdjust="spacingAndGlyphs">0</text>
<text x="912" y="1075" font-family="Liberation Sans, sans-serif" font-size="28.5" fill="#000" textLength="39.8" lengthAdjust="spacingAndGlyphs">-20</text>
<text x="955.7" y="1101" font-family="Liberation Sans, sans-serif" font-size="28.5" fill="#000" textLength="97.8" lengthAdjust="spacingAndGlyphs">-1.32 Å<tspan font-size="15" dy="-12">-1</tspan></text>
<text x="1200.6" y="1101.5" font-family="Liberation Sans, sans-serif" font-size="28.5" fill="#000" textLength="97.7" lengthAdjust="spacingAndGlyphs">-0.77 Å<tspan font-size="15" dy="-12">-1</tspan></text>
<text x="892.7" y="1084.7" font-family="Liberation Sans, sans-serif" font-size="36" fill="#000" textLength="163" lengthAdjust="spacingAndGlyphs" transform="rotate(-90 892.7 1084.7)">E-E<tspan font-size="19.5">F</tspan> (meV)</text>
</svg>
</body></html>
